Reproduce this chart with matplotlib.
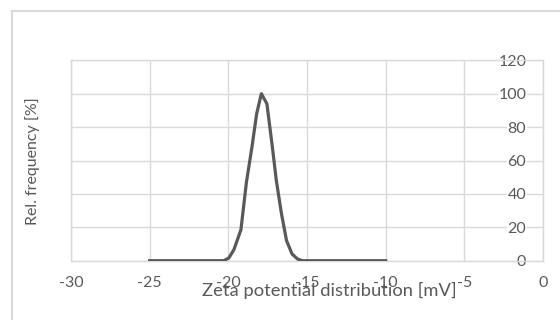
import numpy as np
import matplotlib
matplotlib.use('Agg')
import matplotlib.pyplot as plt
from matplotlib.lines import Line2D

matplotlib.rc('font', family=['Lato', 'DejaVu Sans'], size=11.5)
matplotlib.rc('axes', unicode_minus=False)

# zeta potential [mV] and relative frequency [%]
zeta = [-25, -20.3, -19.97, -19.65, -19.2, -18.85, -18.5, -18.2, -17.9,
        -17.55, -17.2, -16.95, -16.62, -16.3, -15.95, -15.6, -15.3, -10]
freq = [0, 0, 1.6, 6.5, 18.5, 47, 68, 88, 100,
        94, 68, 48, 28, 12, 4, 1, 0, 0]

x_ticks = [-30, -25, -20, -15, -10, -5, 0]
y_ticks = [0, 20, 40, 60, 80, 100, 120]

grey_txt = '#595959'
grey_grid = '#d9d9d9'

fig = plt.figure(figsize=(5.6, 3.2), dpi=100)
ax = fig.add_axes([71 / 560, 1 - 260.7 / 320, (543 - 71) / 560, (260.7 - 60.3) / 320])

ax.plot(zeta, freq, color=grey_txt, linewidth=2.3, zorder=3)

ax.set_xlim(-30, 0)
ax.set_ylim(0, 120)
ax.set_xticks(x_ticks)
ax.set_yticks(y_ticks)
ax.grid(True, color=grey_grid, linewidth=1.0)
ax.set_axisbelow(True)
for s in ax.spines.values():
    s.set_color(grey_grid)
    s.set_linewidth(1.0)

ax.tick_params(axis='x', length=0, pad=11, colors=grey_txt)
ax.yaxis.tick_right()
ax.tick_params(axis='y', length=0, pad=-12, colors=grey_txt)
for lab in ax.get_yticklabels():
    lab.set_horizontalalignment('right')
    lab.set_bbox(dict(facecolor='white', edgecolor='none', pad=0.5))
    lab.set_zorder(4)

fig.text(33 / 560, 1 - 161 / 320, 'Rel. frequency [%]', rotation=90,
         ha='center', va='center', color=grey_txt, fontsize=11.5)
fig.text(329 / 560, 1 - 290 / 320, 'Zeta potential distribution [mV]',
         ha='center', va='center', color=grey_txt, fontsize=13.2)

# outer chart frame (cropped on right and bottom)
fig.add_artist(Line2D([12 / 560, 12 / 560], [0, 1 - 11 / 320], color=grey_grid, linewidth=1.5))
fig.add_artist(Line2D([12 / 560, 1], [1 - 11 / 320, 1 - 11 / 320], color=grey_grid, linewidth=1.5))

fig.savefig('out.png', dpi=100)
